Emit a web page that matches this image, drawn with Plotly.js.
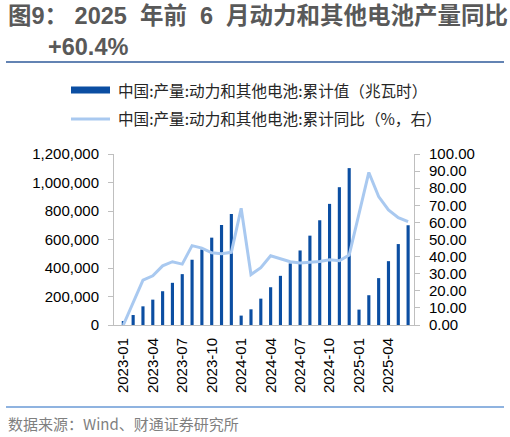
<!DOCTYPE html>
<html><head><meta charset="utf-8">
<script src="https://cdn.plot.ly/plotly-3.0.1.min.js"></script>
<style>html,body{margin:0;padding:0;background:#fff;}#chart{width:510px;height:437px;}</style>
</head><body><div id="chart"></div>
<script>
const months = ["2023-01","2023-02","2023-03","2023-04","2023-05","2023-06","2023-07","2023-08","2023-09","2023-10","2023-11","2023-12",
"2024-01","2024-02","2024-03","2024-04","2024-05","2024-06","2024-07","2024-08","2024-09","2024-10","2024-11","2024-12",
"2025-01","2025-02","2025-03","2025-04","2025-05","2025-06"];
const cumulativeMWh = [28000,70000,131000,178000,237000,296000,357000,458000,530000,613000,702000,779000,
66000,110000,185000,265000,345000,432000,523000,627000,735000,850000,967000,1101000,
108000,209000,329000,448000,568000,700000];
const yoyPct = [0,13,26.2,28.8,34.6,37.0,35.6,46.4,45.0,42.2,41.7,42.5,
68.3,29.5,33.5,40.5,38.9,37.0,36.2,36.5,37.2,38.2,37.6,40.9,
65.0,89.2,75.1,67.3,62.8,60.4];
const tickMonths = ["2023-01","2023-04","2023-07","2023-10","2024-01","2024-04","2024-07","2024-10","2025-01","2025-04"];
const seriesNames = ["中国:产量:动力和其他电池:累计值（兆瓦时）","中国:产量:动力和其他电池:累计同比（%，右）"];
const titleLine1 = "图9：&nbsp;2025&nbsp;&nbsp;年前&nbsp;&nbsp;6&nbsp;&nbsp;月动力和其他电池产量同比";
const titleLine2 = "+60.4%";
const sourceText = "数据来源：Wind、财通证券研究所";

const FONT = "Liberation Sans, Arial, 'Noto Sans CJK SC', sans-serif";
const CJK = "'Noto Sans CJK SC', 'Liberation Sans', sans-serif";
const barColor = "#0B4EA2";
const lineColor = "#A9C9F0";

const L=114, R=414, T=154, B=325, W=510, H=437;
const px = x => (x-L)/(R-L);
const py = y => (B-y)/(B-T);

const traces = [
  {type:"bar", x:months, y:cumulativeMWh, name:seriesNames[0], marker:{color:barColor}, yaxis:"y", hoverinfo:"skip"},
  {type:"scatter", mode:"lines", x:months, y:yoyPct, name:seriesNames[1], line:{color:lineColor, width:3}, yaxis:"y2", hoverinfo:"skip"}
];

const layout = {
  width:W, height:H,
  margin:{l:L, r:W-R, t:T, b:H-B, pad:0},
  paper_bgcolor:"#fff", plot_bgcolor:"#fff",
  showlegend:false,
  bargap:0.68,
  font:{family:FONT, size:15, color:"#000"},
  xaxis:{type:"category", range:[-0.95,29.6], tickmode:"array", tickvals:tickMonths, ticktext:tickMonths,
    tickangle:-90, showgrid:false, zeroline:false, showline:true, linecolor:"#BFBFBF", linewidth:1,
    ticks:"", tickfont:{family:FONT,size:15,color:"#000"}, ticklabelstandoff:6},
  yaxis:{range:[0,1200000], dtick:200000, tickformat:",d", showgrid:false, zeroline:false,
    showline:true, linecolor:"#BFBFBF", linewidth:1, ticks:"outside", ticklen:5, tickcolor:"#BFBFBF",
    tickfont:{family:FONT,size:15,color:"#000"}, ticklabelstandoff:6},
  yaxis2:{range:[0,100], dtick:10, tickformat:".2f", overlaying:"y", side:"right", showgrid:false, zeroline:false,
    showline:true, linecolor:"#BFBFBF", linewidth:1, ticks:"outside", ticklen:5, tickcolor:"#BFBFBF",
    tickfont:{family:FONT,size:15,color:"#000"}, ticklabelstandoff:6},
  shapes:[
    {type:"line", xref:"paper", yref:"paper", x0:px(6), x1:px(504), y0:py(62), y1:py(62), line:{color:"#2F5A9A", width:1.5}},
    {type:"line", xref:"paper", yref:"paper", x0:px(6), x1:px(504), y0:py(407), y1:py(407), line:{color:"#6A9AD6", width:1.5}},
    {type:"rect", xref:"paper", yref:"paper", x0:px(71), x1:px(110), y0:py(86.5), y1:py(93.5), fillcolor:barColor, line:{width:0}},
    {type:"line", xref:"paper", yref:"paper", x0:px(71), x1:px(110), y0:py(119), y1:py(119), line:{color:lineColor, width:3}}
  ],
  annotations:[
    {xref:"paper", yref:"paper", x:px(6), y:py(16), xanchor:"left", yanchor:"middle", showarrow:false,
     text:"<b>"+titleLine1+"</b>", font:{family:FONT, size:23.5, color:"#595959"}},
    {xref:"paper", yref:"paper", x:px(46), y:py(47), xanchor:"left", yanchor:"middle", showarrow:false,
     text:"<b>"+titleLine2+"</b>", font:{family:FONT, size:23.5, color:"#595959"}},
    {xref:"paper", yref:"paper", x:px(116), y:py(90), xanchor:"left", yanchor:"middle", showarrow:false,
     text:seriesNames[0], font:{family:CJK, size:15.6, color:"#262626"}},
    {xref:"paper", yref:"paper", x:px(116), y:py(118), xanchor:"left", yanchor:"middle", showarrow:false,
     text:seriesNames[1], font:{family:CJK, size:15.6, color:"#262626"}},
    {xref:"paper", yref:"paper", x:px(6), y:py(423), xanchor:"left", yanchor:"middle", showarrow:false,
     text:sourceText, font:{family:CJK, size:15, color:"#7F7F7F"}}
  ]
};
Plotly.newPlot("chart", traces, layout, {staticPlot:true, displayModeBar:false});
</script></body></html>
